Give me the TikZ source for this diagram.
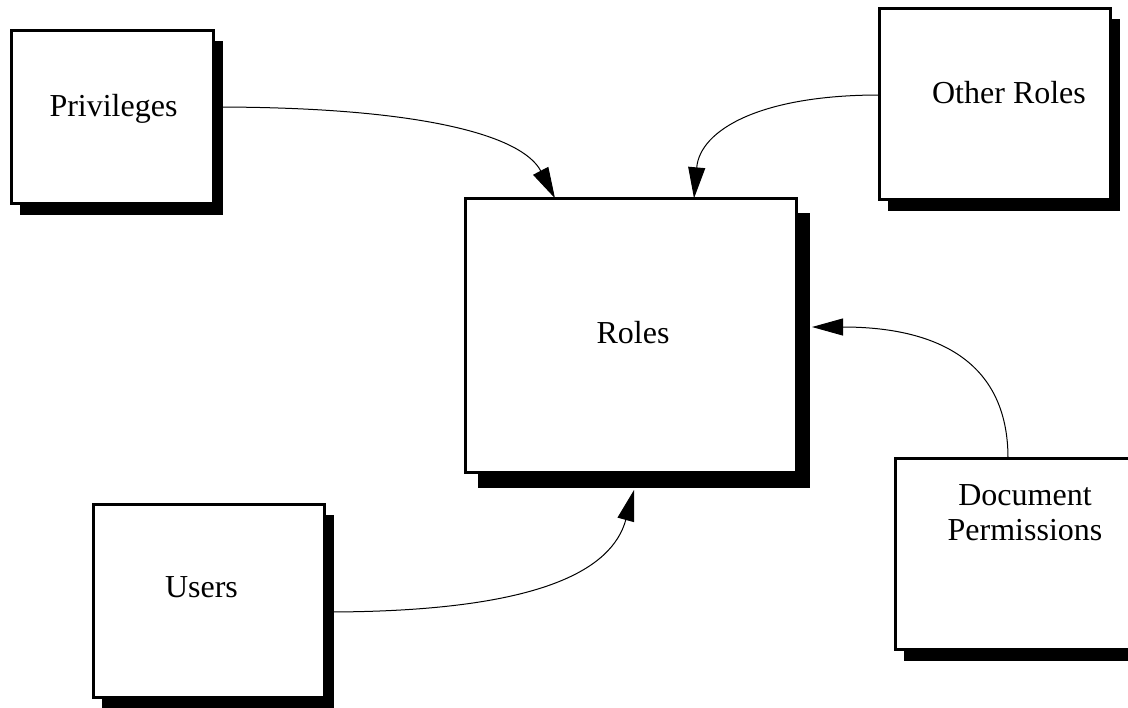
\documentclass[tikz,border=0pt]{standalone}
\usepackage{fontspec}
\setmainfont{Liberation Serif}
\usetikzlibrary{arrows.meta,shadows}

\tikzset{
  entity/.style={draw, line width=1.3pt, fill=white, inner sep=0pt, outer sep=0pt,
    drop shadow={shadow xshift=#1, shadow yshift=-#1-1pt, fill=black, opacity=1}},
  entity/.default=4.5pt,
  boxtext/.style={anchor=base, inner sep=0pt, align=center,
    font=\fontsize{16pt}{17.5pt}\selectfont},
  flow/.style={-{Triangle[length=15.5pt,width=8.5pt]}, line width=0.5pt}
}

\begin{document}
\begin{tikzpicture}[x=0.5pt,y=-0.5pt]
  \useasboundingbox (0,0) rectangle (1128,707);
  \clip (0,0) rectangle (1128,707);

  % Boxes with their shadows
  \node [entity, minimum width=101.2pt, minimum height=86.7pt] (priv) at (112.5,117) {};
  \node [entity, minimum width=115.7pt, minimum height=95.7pt] (oroles) at (995,104) {};
  \node [entity=6.5pt, minimum width=165.7pt, minimum height=137.2pt] (roles) at (631,335.5) {};
  \node [entity, minimum width=115.7pt, minimum height=96.7pt] (users) at (209,601) {};
  \node [entity, minimum width=126.7pt, minimum height=95.7pt] (docperm) at (1022,554) {};

  % Box texts
  \node [boxtext] (privtext) at (113.5,116) {Privileges};
  \node [boxtext] (orolestext) at (1009,103) {Other Roles};
  \node [boxtext] (rolestext) at (633,343) {Roles};
  \node [boxtext] (userstext) at (201.5,597) {Users};
  \node [boxtext] (docpermtext) at (1025,540) {Document\\Permissions};

  % Flows into the roles box
  \draw [flow] ([yshift=5pt]priv.east) .. controls (420,107) and (522,135)
    .. ([xshift=-38pt]roles.north);
  \draw [flow] ([yshift=4.5pt]oroles.west) .. controls (760,95) and (700,130)
    .. ([xshift=31.5pt]roles.north);
  \draw [flow] ([xshift=-7pt]docperm.north) .. controls (1008,360) and (935,327)
    .. ([shift={(7.65pt,4.25pt)}]roles.east);
  \draw [flow] ([yshift=-5.5pt]users.east) .. controls (540,612) and (612,570)
    .. ([shift={(1.5pt,-8.65pt)}]roles.south);

\end{tikzpicture}
\end{document}
